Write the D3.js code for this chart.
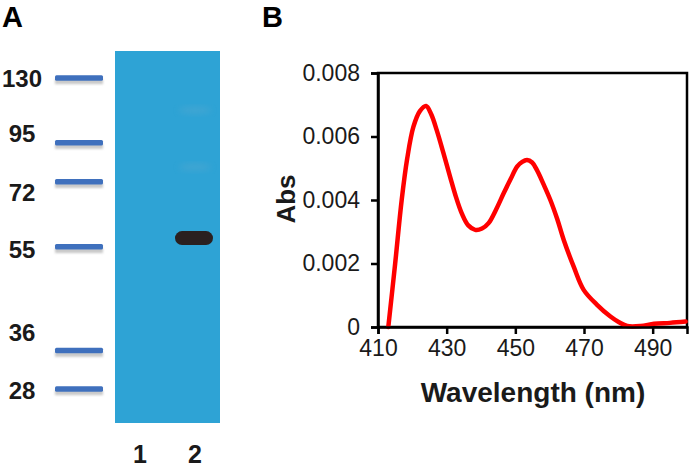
<!DOCTYPE html>
<html><head><meta charset="utf-8">
<script src="https://cdn.jsdelivr.net/npm/d3@7"></script>
<style>body{margin:0;background:#fff}svg{display:block}text{font-family:"Liberation Sans",Arial,sans-serif}</style>
</head><body><svg id="c" width="690" height="467"></svg>
<script>
// ---- Panel A data ----
const markerKDa = [130, 95, 72, 55, 36, 28];
const markerRf = [0.073, 0.247, 0.352, 0.527, 0.806, 0.909];
const laneLabels = ["1", "2"];
const sampleBandRf = [0.503];          // lane 2 strong band
const faintBandRf = [0.159, 0.312];    // lane 2 faint bands
// ---- Panel B data ----
const wavelength = [413, 415, 416.9, 418.5, 420.3, 422.2, 424, 425.5, 427.1, 429, 431, 432.7, 434.4, 436.3, 438.3, 440.3, 442.2, 444.4, 446.6, 448.6, 450.5, 452, 453.4, 454.9, 456.3, 458.2, 460.2, 462.2, 464.1, 467, 469.9, 473.8, 477.7, 480.2, 482.6, 486.5, 490.4, 495, 499.6];
const absorbance = [0, 0.002, 0.004, 0.0053, 0.0063, 0.0068, 0.00696, 0.0067, 0.0062, 0.0055, 0.00473, 0.0041, 0.00358, 0.0032, 0.00306, 0.0031, 0.00327, 0.0037, 0.00421, 0.00465, 0.00505, 0.0052, 0.00526, 0.00518, 0.00494, 0.0045, 0.004, 0.0034, 0.00274, 0.0019, 0.00117, 0.0007, 0.00033, 0.00015, 0.00003, 0.00003, 0.0001, 0.00013, 0.00017];
const xTicks = [410, 430, 450, 470, 490];
const yTicks = [0, 0.002, 0.004, 0.006, 0.008];

const svg = d3.select("#c");

// ===== Panel A =====
const gel = {x0: 115, x1: 220, y0: 51, y1: 423};
const yGel = d3.scaleLinear().domain([0, 1]).range([gel.y0, gel.y1]);
const xLane = d3.scalePoint().domain(laneLabels).range([140, 195]);
const labelShift = [0, -10, 10, 2, -18, 1];

svg.append("text").attr("x", 2).attr("y", 27).attr("font-size", 29).attr("font-weight", "bold").text("A");
svg.append("text").attr("x", 262).attr("y", 27).attr("font-size", 29).attr("font-weight", "bold").text("B");

const defs = svg.append("defs");
const f = defs.append("filter").attr("id", "blur").attr("x", "-20%").attr("y", "-50%").attr("width", "140%").attr("height", "200%");
f.append("feGaussianBlur").attr("stdDeviation", 1.2);
const f2 = defs.append("filter").attr("id", "blur2").attr("x", "-50%").attr("y", "-50%").attr("width", "200%").attr("height", "200%");
f2.append("feGaussianBlur").attr("stdDeviation", 3);

// marker band shadows + bands
svg.selectAll(".mshadow").data(markerRf).join("rect")
  .attr("x", 55).attr("width", 48).attr("y", d => yGel(d) + 1).attr("height", 5)
  .attr("fill", "#c9c9c9").attr("filter", "url(#blur)");
svg.selectAll(".mband").data(markerRf).join("rect")
  .attr("x", 55).attr("width", 48).attr("y", d => yGel(d) - 3).attr("height", 5.5).attr("rx", 1.5)
  .attr("fill", "#3f70bd");
svg.selectAll(".mlabel").data(markerKDa).join("text")
  .attr("x", 22).attr("y", (d, i) => yGel(markerRf[i]) + labelShift[i])
  .attr("dy", "0.36em").attr("text-anchor", "middle")
  .attr("font-size", 24).attr("font-weight", "bold").attr("fill", "#1a1a1a").text(d => d);

svg.append("rect").attr("x", gel.x0).attr("y", gel.y0).attr("width", gel.x1 - gel.x0).attr("height", gel.y1 - gel.y0).attr("fill", "#2ea3d5");
svg.selectAll(".faint").data(faintBandRf).join("ellipse")
  .attr("cx", xLane("2")).attr("cy", d => yGel(d)).attr("rx", 16).attr("ry", 3)
  .attr("fill", "#5aa9cf").attr("opacity", 0.5).attr("filter", "url(#blur2)");
svg.selectAll(".sband").data(sampleBandRf).join("rect")
  .attr("x", xLane("2") - 20).attr("width", 38).attr("y", d => yGel(d) - 7).attr("height", 14).attr("rx", 7)
  .attr("fill", "#2a2020");
svg.selectAll(".lane").data(laneLabels).join("text")
  .attr("x", d => xLane(d)).attr("y", 463).attr("text-anchor", "middle")
  .attr("font-size", 25).attr("font-weight", "bold").attr("fill", "#1a1a1a").text(d => d);

// ===== Panel B =====
const pb = {l: 378, r: 687, t: 73, b: 327};
const x = d3.scaleLinear().domain([410, 500]).range([pb.l, pb.r]);
const y = d3.scaleLinear().domain([0, 0.008]).range([pb.b, pb.t]);

svg.append("rect").attr("x", pb.l).attr("y", pb.t).attr("width", pb.r - pb.l).attr("height", pb.b - pb.t)
  .attr("fill", "none").attr("stroke", "#000").attr("stroke-width", 2.5);

const line = d3.line().x((d, i) => x(wavelength[i])).y(d => y(d)).curve(d3.curveCatmullRom.alpha(0.5));
svg.append("path").datum(absorbance).attr("d", line).attr("fill", "none").attr("stroke", "#ff0000").attr("stroke-width", 4.5).attr("stroke-linejoin", "round").attr("stroke-linecap", "round");

const xAxis = svg.append("g").attr("transform", `translate(0,${pb.b})`)
  .call(d3.axisBottom(x).tickValues(xTicks).tickSize(7).tickFormat(d3.format("d")));
const yAxis = svg.append("g").attr("transform", `translate(${pb.l},0)`)
  .call(d3.axisLeft(y).tickValues(yTicks).tickSize(7).tickFormat(d => d === 0 ? "0" : d3.format(".3f")(d)));
[xAxis, yAxis].forEach(g => {
  g.select(".domain").attr("stroke", "#000").attr("stroke-width", 2.5);
  g.selectAll(".tick line").attr("stroke", "#000").attr("stroke-width", 2.5);
  g.selectAll(".tick text").attr("fill", "#1a1a1a").attr("font-size", 23).attr("font-family", "Liberation Sans, Arial, sans-serif");
});
xAxis.selectAll(".tick text").attr("dy", "0.71em").attr("y", 13);
yAxis.selectAll(".tick text").attr("x", -18);

svg.append("text").attr("x", 533).attr("y", 402).attr("text-anchor", "middle")
  .attr("font-size", 28).attr("font-weight", "bold").attr("fill", "#1a1a1a").text("Wavelength (nm)");
svg.append("text").attr("transform", "translate(295,199) rotate(-90)").attr("text-anchor", "middle")
  .attr("font-size", 26).attr("font-weight", "bold").attr("fill", "#1a1a1a").text("Abs");
</script></body></html>
